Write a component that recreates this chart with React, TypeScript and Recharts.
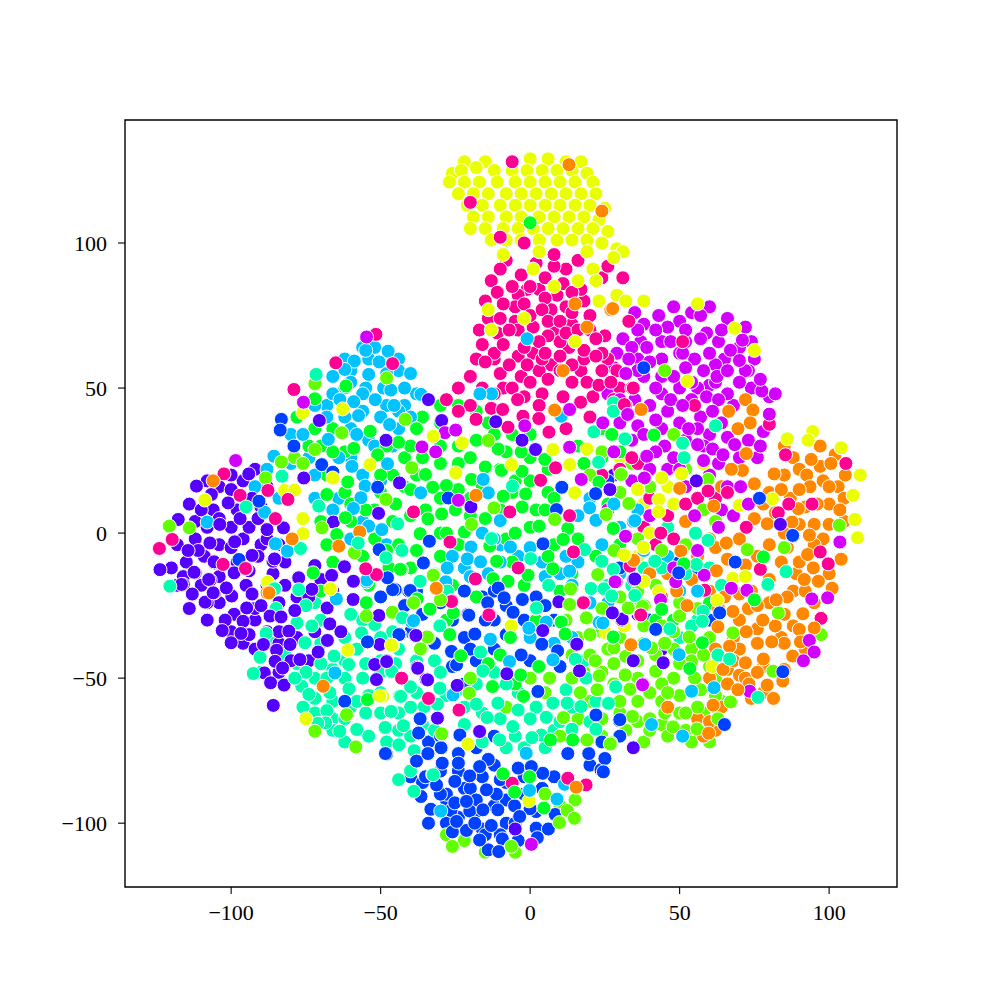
import { ScatterChart, Scatter, XAxis, YAxis, ZAxis, Cell, ReferenceArea } from 'recharts';

type Pt = [number, number];

const xTicks = [-100, -50, 0, 50, 100];
const yTicks = [-100, -50, 0, 50, 100];
const xRange = [-135.5, 122.7];
const yRange = [-122, 142.4];

const orange: Pt[] = [
  [56, -8], [60, -2], [46, -14], [54, -16], [60, -20], [64, 16], [52, 4], [40, -14], [44, -22],
  [85, 30], [97, 30], [102, 27], [88, 26], [97, 23], [103, 16], [85, 20], [98, 18], [80, 14], [87, 12], [92, 9], [100, 10], [105, 4], [75, 17], [82, 7], [90, 3], [98, -2], [104, -9], [75, 5], [80, -4], [86, -5], [95, -4], [101, -19], [70, -2], [76, -8], [89, -14], [95, -24], [72, -11], [62, -5], [66, -9], [74, -20], [70, -21], [80, -24], [85, -28], [73, -26], [65, -22], [88, -32], [63, -26], [68, -36], [76, -33], [84, -36], [92, -40], [62, -40], [70, -40], [60, -50], [66, -47], [78, -55], [85, -47], [56, -64], [62, -68], [70, -49], [58, -70], [64, -60], [74, -57],
  [105, 12], [100, 16], [96, 10], [90, 22], [84, 15], [78, 10], [100, 3], [95, 3], [85, 0], [100, -14], [90, -10], [80, -16], [88, -20], [76, -25], [70, -30], [82, -32], [76, -38], [68, -44], [85, -38], [92, -20], [72, -50], [78, -46], [66, -52], [60, -65],
  [13, 127], [24, 111], [15, 79], [27, 77], [19, 71], [11, 56], [27.6, 77.4], [37, 42.6], [66.4, 42], [72, 46], [74.5, 42.4], [73.6, 38], [69.5, 36], [72.3, 27.4], [71, 21.6], [67.3, 22], [81.6, 20.4], [94, 25.4], [100.6, 24], [105.4, 20], [92.5, 20], [93.6, 16], [90, 15], [61.4, 9.3], [50, 15.4], [103.6, 8], [89.7, 8.4], [87.6, 3.8], [79.3, 3.2], [93.4, -0.7], [65.6, -3.4], [50.4, -6.2],
  [34.7, -9.3], [62.3, -13], [92.8, -7.4], [84, -10], [94.7, -12], [91.7, -16], [96.4, -16.6], [49, -20], [52.5, -25], [86, -22], [67.8, -27], [82.3, -23], [77.8, -30], [91.2, -27.8], [62.8, -32.3], [72.3, -34], [95, -32.7], [90, -33.2], [80.8, -37.5], [90.4, -37.5], [66.7, -39], [33.6, -38.4], [78, -43.4], [87.8, -42.4], [72, -44.7], [64.5, -47], [76, -48], [73.2, -52], [79.3, -52.4], [69.5, -54], [81.4, -57], [46, -60], [61.2, -59.3], [59.7, -69], [84.5, -51],
  [15.4, -87.6], [33.7, -38.5], [34.6, -9.4], [37.1, 42.6], [8.2, 42.4], [-18.1, 13], [-31.2, -19.1], [-106, 18], [-57, 0.4], [-79.6, -2], [-64, -4.5], [-88, -20.6], [-69.2, -52.8], [-87.3, -20.6], [-31.4, -19],
];

const yellow: Pt[] = [
  [38, 10], [46, 16], [48, 10], [40, 0], [36, -8], [58, 24], [30, 26],
  [-22, 128], [-26, 124], [-15, 128],
  [0, 129], [6, 129], [12, 128], [17, 128], [-23, 125], [-18, 126], [-12, 125], [-6, 125], [-1, 125], [4, 125], [9, 125], [14, 125], [19, 124], [-27, 121], [-22, 121], [-17, 121], [-11, 121], [-5, 121], [0, 121], [5, 121], [10, 121], [15, 121], [21, 121],
  [-24, 117], [-19, 117], [-14, 117], [-8, 117], [-3, 117], [2, 117], [7, 117], [12, 117], [17, 117], [22, 117], [-21, 113], [-16, 113], [-10, 113], [-5, 113], [0, 113], [5, 113], [10, 113], [15, 113], [20, 113], [25, 112], [-19, 109], [-14, 109], [-8, 109], [-3, 109], [3, 109], [8, 109], [13, 109], [18, 109], [23, 108],
  [-20, 105], [-15, 105], [-9, 105], [-4, 105], [1, 105], [6, 105], [11, 105], [16, 105], [21, 105], [26, 104], [-13, 101], [-8, 101], [-3, 101], [3, 101], [9, 101], [14, 101], [19, 101], [24, 100], [29, 98], [31, 97], [28, 95], [-9, 96],
  [3, 97], [19, 97], [1, 91], [21, 91], [22, 87], [29, 82], [32, 80], [38, 80], [23, 80], [8, 85], [16, 87], [-14, 77], [-13, 70], [-2, 74], [15, 66],
  [68.4, 70.6], [75, 63], [56, 79], [52.6, 52.4], [86, 32.5], [94.5, 35], [93, 32], [104, 29.4], [110.4, 20], [108, 13], [108.6, 4.7], [109.5, -1.6], [50.6, 20.4], [44, 19], [36, 15], [43, 11.6], [43, 7.3], [38, -5], [70, 9.6], [81, 11.8],
  [38, -16.6], [67.8, -15.6], [72, -15], [62.6, -23.2], [43, -20.2], [61, -46], [-46, -38.7], [-20.8, -72.8], [-6.3, -32], [-0.4, -92.3], [-49.3, -56.3], [25.4, -34.5], [31.5, -32],
  [-61, -40.4], [-46.4, -38.6], [-66.8, -19.2], [-50.3, -56.2], [-75, -64], [-87.8, -16.9], [-62.7, 42.8], [-76, 41.5], [-82.1, 14.7], [-78.8, 14.8], [-108.8, 11.4], [-53.6, 23.6], [-76, 5], [-76, -0.2], [-66.8, -19.2], [-66, 19],
  [-32.4, 33.4], [-22.7, 31.1], [7.6, 28.8], [19, 29], [-6.2, 23.6], [13.2, 23.6], [-24.9, 20.8], [14.9, 13.9], [36, 15], [37.9, -4.9], [31.5, -7.6],
];

const lime: Pt[] = [
  [34, 24], [28, 28], [40, 16], [52, 22], [62, 4], [30, 14], [36, -2], [28, -6], [44, -6], [52, -4], [58, 8], [24, 28], [20, 20],
  [12, -30], [18, -24], [24, -26], [30, -22], [36, -20], [42, -18], [16, -36], [24, -34], [30, -36], [38, -38], [44, -32], [50, -24], [56, -26], [14, -42], [24, -48], [36, -50], [42, -42], [48, -40], [54, -40], [60, -36], [18, -48], [28, -52], [38, -52], [48, -50], [54, -44], [60, -46], [20, -58], [30, -62], [36, -65], [44, -58], [50, -56], [57, -54], [62, -50], [24, -70], [32, -68], [38, -72], [44, -66], [50, -62], [58, -62], [62, -60], [46, -70], [54, -72], [60, -72], [64, -58], [10, -70], [16, -64], [5, -55], [0, -50], [-8, -60], [-20, -50], [10, -94], [15, -92], [5, -90], [-15, -110], [-5, -110], [-22, -106], [-28, -104],
  [20, -35], [26, -40], [36, -44], [45, -38], [50, -45], [55, -50], [44, -52], [36, -58], [28, -45], [20, -42], [45, -62], [52, -68], [40, -68], [30, -58], [24, -64], [58, -42], [62, -56], [56, -60], [14, -50], [38, -32], [48, -34],
  [45, 56], [48, 34], [30.6, 20.4], [59.5, 18.5], [33, 10], [103.4, 2.7], [85, -5], [72.6, -5.7], [83, -27.5], [67.8, -34.4], [97.3, -35], [33.2, -26], [38.2, -25], [50, -28.6], [53.2, -35.8], [40.6, -39.6], [32, -42.4], [28, -39.6], [31.7, -48.8], [42, -47.6], [40, -55], [33.4, -53.6], [46, -55], [34.3, -63], [40, -64], [52, -62], [47.8, -66.8], [55.8, -67.5], [62.8, -64], [67, -58.2], [27, -72.3], [81.2, -47.6],
  [-34, -36], [-36.3, -40], [-20.4, -55.2], [-29.4, -69.3], [11.1, -63.6], [6.5, -50], [19, -71.3], [26.8, -72.7], [12.4, -95.6], [22.4, -54], [23.1, -49.2], [16.8, -55], [21.8, -44], [34.2, -63.2], [33.4, -53.8], [31.8, -48.9], [32, -42.5], [18.5, -29.3], [13.1, -24.7], [32.9, -26], [37.6, -25.3], [-6.3, -108], [-26, -108], [9.8, -99.8], [14.8, -98.3],
  [-32.2, -14.3], [-54.8, -28.6], [-46.1, -27.3], [-34.4, -35.8], [-36.7, -39.9], [-29.6, -69.2], [-58.3, -73.7], [-72, -68.3], [-61.4, -62.6], [-72, 51.5], [-63, 34.6], [-72, 28.8], [-78.8, 26], [-83.2, 24.5], [-76, 24], [-88.5, 19], [-114, 1.8], [-120.7, 2.4], [-58.8, -6.8], [-48.2, 11.6], [-48, 53.5], [-69.6, 1.8],
  [-41.8, 39.2], [-14, 31.9], [-39.6, 22.5], [-12.1, 8.7], [30.4, 20.2], [33, 10.2], [8.2, 4.7], [-32.4, -14.5], [13.5, -19.2], [22.6, -14.3], [-30, -23], [32.8, -25.8], [13.2, -24.6], [18.8, -29.2], [-39, -24], [25.4, 6.4], [-19.6, 3],
];

const green: Pt[] = [
  [24, 26], [18, 24], [26, 10], [30, -4], [36, -24], [42, -30], [48, -30], [60, -24], [16, 30], [24, 36], [30, 28],
  [-30, 44], [-24, 44], [-36, 40], [-30, 38], [-18, 42], [-14, 38], [-24, 30], [-18, 32], [-42, 26], [-36, 26], [-30, 30], [-12, 34], [-6, 34], [0, 34], [-46, 20], [-38, 20], [-24, 24], [-8, 28], [0, 26], [6, 22], [-50, 14], [-42, 16], [-24, 15], [-16, 16], [-6, 14], [0, 18], [6, 14], [-46, 4], [-40, 6], [-30, 0], [-20, 6], [-10, 8], [2, 8], [8, 12], [-52, -2], [-44, -4], [-38, -6], [-30, -8], [-24, -4], [-8, -2], [0, 2], [8, -4], [16, -2], [22, -8], [-40, -12], [-32, -14], [-6, -10], [6, -8], [14, -14], [-26, -18], [-18, -22], [-2, -18], [10, -20], [-28, -30], [2, -30], [-10, -42], [-14, -45], [-5, -52], [-66, 36], [-70, 30], [-62, 28], [-68, 20], [-74, 30], [-72, 36], [-78, 40], [-60, 4], [-70, 4], [-68, -4], [-62, 14], [-56, -8], [-52, 8], [-48, -6], [-70, -20], [-66, -10], [-54, -18],
  [-50, 20], [-40, 30], [-30, 24], [-45, 10], [-35, 8], [-25, 8], [-15, 5], [-5, 18], [-20, 26], [-40, 15], [-55, 8], [-28, 0], [-5, 0], [5, 8], [-38, 36], [-48, 30], [-30, 12], [-10, 22], [-20, 12], [-3, 28], [-66, 28], [-60, 10],
  [-44, 31.3], [-35, 20.2], [-32.6, 15.8], [-28, 16.4], [-19.6, 18.5], [-15, 22.8], [-10.7, 29], [-9.6, 21.6], [-2.7, 21.3], [-9, 12.7], [-1.5, 13.5], [-2.7, 9], [-29.6, 6.6], [-34.2, 4.9], [-36.8, -0.2], [-22, 0.4], [3, 2.4], [12.6, 1.6], [11, -2.2], [27.6, 1.6], [-43, -12.6], [-12.4, -15.7], [7.6, -12.3], [-0.7, -14.5], [-33.5, -26.4], [10.4, -30.4], [4.9, 25.4], [23, 17.5], [27.3, 34], [-13.5, -4.5], [-11.2, -9.7], [-7.4, -16.6], [-25.7, -27.5],
  [-61.6, 50.7], [-72, 46.3], [-53.5, 35.1], [-59, 29.2], [-51, 27], [-61, 17.6], [-68, 13.3], [-61.8, 5.3], [-64.7, -0.5], [-47.5, -12], [-47.2, -12], [-43.4, -12.5], [-33.7, -26.3], [-54.8, -24], [-54.4, -57.4], [-37.8, -22.7], [-72.6, -13.7],
  [-33.5, -26.2], [-26.9, -35], [-23.2, -42.3], [-6.6, -36], [10.4, -30.7], [11.7, -34.8], [2.9, -46], [-3.2, -48.9], [-12.6, -52.9], [-2.2, -56.3], [6.8, -71.3], [14.2, -71.3], [-9.1, -83], [-5.2, -89.3], [4.6, -94.8], [27.6, -35.9], [-0.2, -84],
  [27.8, 1.5], [51.4, -10.6], [78, -8.2], [75, -23], [44, -26.3], [27.8, -35.8], [57.6, -37.8], [53.4, -46.7], [27.3, 34], [41.4, 33.8], [27.8, 1.6], [0, 107],
];

const teal: Pt[] = [
  [46, 2], [30, -12], [38, -12], [26, -18], [44, -12], [52, -14], [34, -18], [60, -12], [64, -18], [56, -30], [50, -36], [54, -32],
  [-86, -38], [-82, -42], [-78, -45], [-72, -50], [-66, -47], [-58, -40], [-84, -50], [-72, -62], [-66, -64], [-60, -60], [-54, -56], [-50, -62], [-44, -68], [-62, -72], [-54, -70], [-48, -72], [-40, -70], [-70, -38], [-62, -44], [-56, -50], [-50, -44], [-44, -40], [-38, -44], [-32, -44], [-28, -56], [-24, -54], [-18, -52], [-12, -48], [-16, -62], [-10, -64], [-4, -55], [2, -60], [8, -68], [12, -54], [-36, -66], [-32, -68], [-56, -30], [-46, -34], [-72, -24], [-66, -68], [-62, -64], [-68, -50], [-58, -58], [-50, -48], [-76, -60], [-40, -60], [-8, -74], [-16, -72], [-22, -66], [-2, -74], [5, -74], [-40, -82], [-44, -85], [18, -44], [22, -58], [14, -60], [20, -65], [-75, -25], [-85, -26], [-90, -48],
  [-70, -45], [-62, -50], [-55, -45], [-50, -55], [-44, -62], [-55, -62], [-66, -58], [-75, -48], [-70, -30], [-60, -28], [-45, -45], [-38, -55], [-30, -48], [-22, -60], [-8, -52], [0, -64], [-5, -70], [10, -65], [-62, -36], [-50, -36], [-72, -57],
  [-85.3, -19.2], [-77.6, -19.4], [-88.3, -34.6], [-90.3, -42.8], [-78, -31], [-73, -32], [-75.3, -37.8], [-76.4, -52.8], [-67, -55], [-68, -61.2], [-68.4, -65.4], [-71, -65.6], [-63.7, -68.3], [-58, -67.7], [-48.7, -67.1], [-43.9, -73.1], [-46.4, -61.4], [-43.7, -56.2], [-40, -53.1], [-35.3, -59.7], [-31, -59], [-30.3, -53.4], [-56.4, -34.4], [-65.6, -42.4], [-60.7, -45.3], [-46.4, -47.8], [-60.6, -53.7], [-42.8, -29.6], [-30.1, -31.8], [-37, -16.8], [-52, -31.5], [-92.6, -48.4], [-78.7, -50], [-74, -55.6], [-38.7, -75.2], [-32.6, -83.2],
  [-42.6, -29.3], [-30.2, -32], [-16.6, -41], [-46.3, -47.7], [-40, -53], [-43.3, -56.3], [-46.5, -61.5], [-48.5, -67], [-42.4, -66.4], [-35.4, -59.8], [-31, -59], [-30.2, -53.5], [-15.8, -47.5], [-10.8, -58.6], [-14.4, -63.6], [-4, -61], [-5.8, -66.7], [-10.2, -71.3], [5.4, -63.5], [3.7, -69.6], [7.6, -58.6], [12.4, -58.6], [17, -59.8], [15.1, -43.5], [18.7, -50], [28.5, -53], [25.9, -58.6], [1.9, -26], [-43.9, -73], [-38.8, -75], [-32.4, -83.3], [-38.9, -89], [22, -67.6], [14, -67.6], [0.6, -70.5], [-18, -59],
  [-44.3, 3.2], [-42.9, -6], [-12.9, -1.9], [0.2, -8.8], [18.2, -5.7], [21.3, 34.9], [31.9, 32.5], [22.9, 24.4], [-36.8, -16.6], [6.2, -18], [24.3, -19.1], [20.4, -19.1], [2.1, -25.8], [-42.7, -29.2], [-27.7, -20], [27.9, 44.9], [-5.9, 16.2],
  [27.8, 42], [62, 37], [31.7, 32.5], [51, 31], [51.5, 26], [55.3, 0], [59.5, -2.5], [41.7, -9.7], [27.8, -12.5], [24, -9.7], [24.7, -19.2], [27.3, -21.7], [35, -21.5], [55.6, -10.8], [79.5, -17.7], [85.6, -13.3], [57.8, -27], [57.6, -30.4], [46.7, -33], [62.8, -42], [66.7, -43.4], [76.2, -56.6], [28.6, -53], [26.2, -58.7],
  [-83, 19.6], [-95, 9], [-76.8, -5.3], [-57.5, -3.4], [-77.4, -19.5], [-85.5, -19.2], [-70.7, 9.3], [-120.5, -18.3], [-48.2, -8.5], [-71.6, 54.7],
];

const cyan: Pt[] = [
  [46, -8], [50, -20], [26, -24], [30, -14], [38, -6],
  [-56, 64], [-52, 64], [-44, 60], [-62, 60], [-66, 54], [-60, 56], [-44, 56], [-38, 48], [-42, 44], [-55, 50], [-49, 50], [-68, 44], [-62, 50], [-56, 42], [-48, 44], [-44, 36], [-40, 40], [-66, 36], [-60, 36], [-54, 32], [-46, 30], [-72, 44], [-80, 34], [-74, 26], [-60, 26], [-50, 18], [-64, 12], [-56, 4], [-48, -4], [-72, 12], [-80, 24], [-88, 22], [-92, 16], [-84, 12], [-16, 0], [-10, -4], [-4, -8], [4, -10], [10, -14], [16, -10], [24, -4], [30, 2], [-22, -12], [-14, -14], [-26, -8], [16, 6], [20, 12], [28, 10], [36, 8], [14, -18], [20, -24], [0, -36], [8, -38], [14, -36],
  [-60, 52], [-54, 60], [-48, 55], [-42, 50], [-56, 48], [-50, 40], [-44, 42], [-40, 55], [-62, 40], [-66, 48], [-52, 30], [-58, 34], [-68, 40], [-72, 20], [-64, 26], [-56, 20], [-66, 8], [-60, -2], [-10, -10], [0, -5], [5, -15], [-20, -15], [-12, -2], [12, -8],
  [-55, 63], [-47.5, 62.7], [-58.8, 59.3], [-50.5, 59], [-62, 56.4], [-54, 54.7], [-46.6, 49.3], [-51.8, 46], [-63.6, 46], [-59, 45.3], [-57.4, 40.5], [-47, 37.4], [-76, 34], [-67.5, 32.3], [-85.7, 26.5], [-59.6, 23], [-47.7, 23.9], [-55.2, 16.2], [-56.6, 12.2], [-59.1, 8.5], [-54, 2.4], [-49.6, 1.2], [-108, 3.8], [-88.8, 7.2], [-81.2, -6.2], [-85.2, -3.7], [-54.7, -16.8],
  [-64.8, -22.7], [-54.6, -16.2], [-65.3, -48.2], [-39.8, -30.4], [-36.5, 47.8], [-45.5, 44], [-36.6, 13.9], [-15.7, 18.5], [-14, 13.9], [-10, 4.3], [10.4, 40.3], [19.9, 8.7], [22, 4.4], [34.6, 4.3], [-19.8, -4.8], [-6.6, -4.8], [-21, -8.9], [-16.6, -9.9], [-27.7, -12], [-28.2, -16.8], [13.2, -13.1], [5.4, -30.6], [23.2, -30.6], [-12.9, 48], [-16.8, 48],
  [-6.9, -44.3], [-0.4, -32.8], [5.4, -30.7], [-13.3, -36.6], [-25.8, -55.8], [-1.3, -75.9], [11.5, -86.6], [-0.2, -88.7], [9, -91.7], [-29.9, -95.8], [23.1, -30.8], [-39, -30.2], [7.6, -43.7],
  [49.8, -41.9], [61.5, -53.3], [54, -54.5], [34.5, 4], [24.3, -31], [51, -70], [40.6, -66], [38.4, -38.4], [56, -20], [35, 4.3], [-1, 67],
];

const blue: Pt[] = [
  [40, -30], [50, -10], [56, -14], [60, -30], [30, -12], [26, 18],
  [-40, -84], [-36, -86], [-30, -82], [-28, -92], [-34, -100], [-30, -96], [-22, -88], [-16, -84], [-12, -80], [-8, -86], [-2, -84], [4, -88], [8, -84], [-24, -98], [-18, -96], [-12, -94], [-8, -100], [-2, -90], [2, -96], [-22, -106], [-16, -102], [-10, -104], [-4, -106], [-28, -90], [-24, -76], [-18, -74], [-34, -72], [-12, -70], [-42, -25], [-36, -28], [-30, -24], [-26, -30], [-22, -36], [-16, -22], [-12, -30], [-8, -25], [-2, -30], [2, -22], [8, -30], [-12, -40], [-18, -44], [-26, -46], [-32, -38], [-22, -52], [0, -44], [10, -46], [30, -70], [24, -72], [20, -80], [-40, -34], [-50, -22],
  [-30, -90], [-20, -88], [-10, -85], [-35, -84], [-28, -100], [-15, -104], [-5, -100], [0, -95], [-18, -92], [-8, -92], [-24, -82], [-14, -78], [-30, -70], [-15, -30], [-8, -35], [-20, -40], [-3, -42], [5, -25], [-22, -20], [-12, -20], [-38, -20],
  [-43.5, -35], [-20.8, -28], [-5.8, -27.4], [-18.5, -34.8], [3.9, -38.3], [9.2, -40.6], [-26.3, -40.8], [-24.6, -45.4], [2.6, -54.6], [22, -62.7], [29.8, -64.6], [-36.6, -64], [-37.2, -69], [-23.5, -69.6], [-29.6, -74], [-48, -76.2], [-34, -76.2], [-38, -78.5], [-29.4, -79.3], [-24, -79.3], [-16.9, -80.5], [12.6, -76], [19.6, -76], [25, -77.8], [23.7, -81.6], [-4, -81], [4.2, -82.8], [0.4, -80.5], [-20.2, -83.7], [-25.2, -85.6], [-31.3, -86.8], [-11.3, -90], [-36.5, -90.8], [-33.2, -95.2], [-26.5, -95.6], [-20.2, -95.8], [-15.8, -95.4], [-10.8, -95.4], [-5.2, -94], [-3.5, -97.7], [8.4, -97], [-13, -100.8], [-21.3, -102.5], [-26, -103], [-24.6, -99.4], [-18.5, -100], [2, -101.7], [6.1, -102], [-9.3, -105.4], [-14, -109.2], [-10.5, -109.8], [2.4, -105], [-25.2, -93], [-21.3, -92.5], [-14.6, -88.5], [-16.9, -105.8],
  [-45.6, -19.2], [-40.6, -20], [-35.9, -10.2], [-43.9, -35], [-54.4, -37.5], [-62, -58], [-48.4, -76], [-36.8, -64], [-37.3, -68.9], [-38, -78.6], [-34.2, -76], [-29.8, -74],
  [10.6, 15.8], [21.9, 13.6], [8.8, 8.1], [4.3, -3.7], [-33.7, -2.8], [-35.7, -10.3], [-40.1, -19.8], [-45.1, -19.5], [-10.7, -18.9], [-8.7, -22.3], [-2.6, -22.9], [-14.2, -24], [-20.5, -28.3], [-5.7, -27.3], [-27.4, 12.1],
  [-83.2, 39.2], [-83.6, 35.5], [-79, 30], [-69.7, 23.6], [-66, 21], [-51, 15.8], [-90.7, 11], [-46, -19.5], [-97.4, -9.1], [-50.5, -5.7], [-47.7, -15.4],
  [38, 57], [76.7, 12], [88, -1], [68.6, -10], [49.7, -13.7], [63.4, -27.5], [42, -33.2], [84.5, -47.8], [87.8, -0.8], [30, -64.3], [25, -77.7], [24.5, -82.3], [65, -66],
];

const violet: Pt[] = [
  [28, 20], [36, -28], [44, -40],
  [-120, -12], [-118, -4], [-115, -10], [-112, -2], [-109, -8], [-104, -4], [-110, -18], [-118, -18], [-114, -26], [-108, -30], [-104, -24], [-100, -34], [-96, -38], [-92, -40], [-88, -34], [-92, -30], [-98, -10], [-94, -13], [-92, -26], [-88, -18], [-84, -24], [-78, -36], [-82, -10], [-78, -22], [-96, -2], [-90, -4], [-108, 2], [-100, 2], [-94, 2], [-112, 4], [-84, -4], [-106, 8], [-98, 8], [-90, 9], [-104, 16], [-96, 18], [-92, 22], [-88, 16], [-100, 20], [-84, -38], [-74, -44], [-72, -34], [-74, -22], [-80, -44], [-70, -16], [-84, -48], [-108, 18], [-114, 10], [-66, -20],
  [-116, -15], [-111, -6], [-108, -24], [-104, -15], [-100, -5], [-99, -28], [-95, -18], [-94, -35], [-91, -8], [-90, -25], [-86, -14], [-84, -34], [-104, 5], [-97, 5], [-91, 5], [-100, 15], [-93, 12], [-88, -2], [-110, 8], [-82, -18],
  [-112, -13.7], [-107, -16.2], [-113, -21.2], [-105.6, -20.6], [-108.7, -23.8], [-99.8, -21.7], [-102, -30], [-94.8, -25.8], [-96, -30.4], [-103, -33.6], [-96.7, -34.6], [-100, -37.8], [-87, -28.6], [-83.3, -28.9], [-78.7, -26.7], [-80.7, -33.8], [-89.2, -38.4], [-80.3, -38.4], [-84.8, -40.4], [-85.3, -44.2], [-77, -43.6], [-82.8, -46.5], [-88.9, -48.2], [-86.8, -51.6], [-82.3, -52.4], [-85.9, -59.4], [-70.9, -41], [-67.8, -37], [-63.3, -34], [-67, -31.3], [-67.9, -25.8], [-72, -11.2], [-66.2, -14.5], [-62, -11.4], [-59.2, -16.6], [-59.2, -22.9], [-50.6, -28.4], [-50.3, -38.4], [-52, -45.3], [-48, -44], [-51.4, -50.5], [-34.8, -50.5], [-31, -63.7], [-37.8, -46.2], [-38.3, -35.5], [-116, -17.7], [-86, -9.7], [-93, -21], [-105.6, -10.3], [-99, -13.7], [-77.6, -15.4], [-73, -19.4],
  [-70.5, 38.8], [-48.2, 32], [-94.1, 20.4], [-111.6, 16.2], [-75.7, 19], [-106.6, 13.3], [-101, 10.4], [-117.7, 4.7], [-65.8, 3.8], [-82.5, 1.8], [-88, 1.2], [-103.8, 3], [-50.7, 6.8], [-98.8, -3], [-107.1, -3.4], [-114.4, -6], [-93, -7.7], [-85.5, -8.9], [-105.7, -9.9], [-123.8, -12.6], [-112.4, -13.5], [-107.5, -16], [-116.6, -17.7], [-72, -11.2], [-62.1, -11.6], [-77.4, -15.4], [-66.4, -14.6], [-59.1, -16.6], [-113, -21], [-106, -20.6], [-101.6, -18.9],
  [-29.6, 38.8], [-11.5, 38.4], [-2.7, 32], [1.8, 28.8], [-43.7, 17.3], [-19.8, 9], [26.5, 15.2], [30.6, -29.8], [34.6, -16], [-34, 46], [9.6, -23.7],
  [-16.9, -68.4], [-31, -63.8], [-34.3, -50.6], [-24.4, -52.5], [-7.8, -48.5], [15.6, -38.3], [30.7, -30], [34.5, -74], [-48, -44.3], [-37.6, -46.6], [-38.2, -35.3], [4.2, -33.6], [16.5, -47.5], [-5, -102],
  [83.7, 3], [35, -15.8], [30.8, -29.6], [27.5, -27.5], [44.5, -44.7], [37.6, -52], [34.5, -44], [26.7, 15], [55.6, 18],
];

const magenta: Pt[] = [
  [46, 22], [52, 16], [60, 20], [64, 8], [68, 6], [66, 16], [34, 18], [40, 6], [56, -6], [48, -12], [26, 8],
  [35, 76], [48, 78], [54, 76], [66, 74], [72, 71], [38, 72], [50, 73], [63, 66], [74, 66], [31, 67], [37, 66], [52, 66], [65, 60], [75, 60], [29, 62], [36, 60], [44, 60], [55, 60], [62, 58], [73, 56], [28, 57], [38, 54], [44, 54], [52, 57], [60, 51], [74, 50], [26, 48], [35, 46], [44, 48], [50, 50], [56, 50], [68, 44], [80, 47], [36, 37], [44, 36], [50, 38], [57, 40], [64, 38], [73, 32], [45, 30], [52, 32], [60, 34], [66, 33], [42, 28], [48, 26], [58, 25], [63, 24], [70, 26], [30, 38], [34, 32], [40, 22], [28, 28], [50, 22], [76, 26], [78, 35], [82, 48],
  [36, 70], [44, 66], [52, 70], [60, 62], [64, 70], [36, 56], [42, 50], [48, 54], [54, 52], [66, 48], [30, 46], [38, 34], [46, 42], [56, 36], [62, 52], [72, 56], [40, 44], [50, 62], [70, 64], [54, 46], [34, 64], [58, 30],
  [60, 78], [57, 75], [43, 75], [46, 71], [59, 69], [42, 70], [71, 66.5], [47, 66], [39, 64], [51, 62], [57, 67], [67, 63], [33, 60], [40, 59], [70, 59.5], [32, 55], [58, 56], [62.5, 54], [66, 56], [70, 52], [77.5, 49], [77, 53], [47, 46], [59, 47], [63, 46], [51, 44], [33, 41], [42, 39], [61, 42], [53, 36], [80, 41], [56, 30.5], [39, 26.5], [61, 29], [64.5, 27], [77, 30], [68.4, 30.5], [70.4, 16], [73, 10], [38.4, 19], [55, 6], [63, 2],
  [103.6, -3.1], [58.2, -14.5], [28.8, -16.8], [48.7, -16.8], [67.3, -19], [72.5, -19.7], [94.2, -22.7], [99.5, -22.3], [43.6, -23], [91.4, -44], [93.4, -37], [95, -41], [73.4, -54.5], [32, -1],
  [-31.6, 28], [-36.2, 29.7], [-28.5, 34.6], [-24.9, 35.5], [-24, 11.3], [-1.8, 37], [13.2, 42.6], [13.2, 29.6], [17.1, 18.5], [31.9, -1.1], [28.4, -16.8], [24.3, 38], [32.6, 40.9], [38.2, 19],
  [-54.7, 67.6], [-75.8, 45.1], [-98.5, 25], [0.4, -107.3], [37.6, -52.3],
];

const pink: Pt[] = [
  [38, 2], [46, 6], [40, 12], [52, 10], [56, 12], [62, 12], [66, 14], [48, -2], [42, -4], [30, 22], [36, 24], [24, 20], [34, 26],
  [-8, 94], [2, 93], [12, 91], [24, 88], [-13, 87], [-1, 84], [9, 82], [18, 80], [-11, 83], [3, 84], [-15, 80], [-4, 82], [7, 77], [17, 84], [-17, 70], [-11, 69], [-5, 73], [1, 71], [8, 69], [14, 72], [20, 70], [25, 68], [-16, 65], [-12, 60], [-4, 61], [1, 62], [7, 58], [13, 64], [26, 60], [29, 56], [-18, 60], [-10, 55], [-3, 54], [3, 56], [10, 56], [17, 56], [24, 56], [30, 50], [-24, 50], [-16, 50], [-9, 50], [-2, 47], [4, 48], [11, 47], [21, 47], [-20, 44], [-13, 43], [3, 44], [12, 36], [20, 40], [-28, 46], [-24, 42],
  [0, 85], [-4, 70], [4, 60], [12, 78], [-12, 62], [18, 60], [10, 66], [-2, 64], [14, 58], [24, 62], [-6, 50], [-12, 48], [6, 68], [-5, 78], [8, 92], [28, 46],
  [8, 96], [16, 94], [26, 92], [31, 88], [-10, 91], [-3, 89], [5, 88], [11, 86], [-6, 85], [14, 83], [-9, 79], [-2, 79], [5, 81], [-14, 74], [-10, 74], [0, 75], [4, 77], [14, 76], [20, 75], [6, 73], [10, 73], [-7, 70], [12, 69], [16, 70], [-9, 65], [3, 66], [22, 67], [18, 63], [22, 61], [10, 61], [5, 62], [-15, 59], [-7, 58], [-1, 58], [-20, 54], [6, 53], [0, 52], [14, 52], [19, 52], [23, 51], [27, 52], [34, 50],
  [-6, 128], [-20, 114], [-10, 102], [-2, 100], [33, 73], [51, 66], [34.5, 50], [55, 44], [32, 44], [80, 37.5], [85.4, 27], [105.6, 24], [59.5, 14.5], [83, 7], [86.5, 10], [94.3, 10], [72.3, 2], [43.7, 0],
  [97, -6.5], [99.7, -10.6], [77, -12.5], [58.4, -19.7], [97.3, -29.4], [37, -28.3], [33.4, -11.4],
  [-18.1, 39.2], [-9.2, 42.6], [-7.4, 36.5], [-4.2, 46], [-2.4, 40.3], [2.9, 39.5], [6.3, 34.8], [16.9, 45.1], [3.5, 18.2], [8.5, 22.5], [-39, 7.3], [-6.8, 7.3], [13.2, 6], [-26.8, -3.1], [-18.3, -15.8], [-4, -12], [-26.2, -23.3], [-13.5, -28.1], [18, -23.8], [14.5, -6.5], [31.5, 44.3],
  [-23.8, -61], [-13.8, -28.2], [-26.3, -23.6], [17.8, -24], [37, -28.2], [-6, -86.2], [12.6, -84.5], [-34, -57], [-43, -50], [18.7, -86.8], [-95, -12.3], [-51.2, -14.3],
  [-79, 49.5], [-65, 58.7], [-46, 58.4], [-51.6, 68.5], [-102.4, 20.4], [-97, 13], [-87.7, 14.7], [-85.2, 5], [-119.7, -2.2], [-124, -5.3], [-102.7, -10.8], [-95.2, -12.2], [-51.4, -14.3], [-81, 11.6], [-55, -12.3],
];

const classes: { color: string; points: Pt[] }[] = [
  { color: '#ff8800', points: orange },
  { color: '#eaff00', points: yellow },
  { color: '#62ff00', points: lime },
  { color: '#00ff26', points: green },
  { color: '#00ffae', points: teal },
  { color: '#00c3ff', points: cyan },
  { color: '#0040ff', points: blue },
  { color: '#5500ff', points: violet },
  { color: '#d400ff', points: magenta },
  { color: '#ff0094', points: pink },
];

// classes are mixed so no colour always ends up on top, like the shuffled original
const rows = classes
  .flatMap((c) =>
    c.points.map((p, i) => ({ x: p[0], y: p[1], z: 1, color: c.color, order: i / c.points.length })),
  )
  .sort((a, b) => a.order - b.order);

const minusTick = (v: number) => (v < 0 ? `\u2212${-v}` : `${v}`);
const tickStyle = { fontFamily: '"Liberation Serif", serif', fontSize: 22, fill: '#000' };

const App = () => {
  return (
    <div style={{ position: 'absolute', left: 0, top: 0 }}>
      <ScatterChart
        width={997}
        height={997}
        margin={{ top: 120, right: 100, bottom: 70, left: 65 }}
      >
        <XAxis
          type="number"
          dataKey="x"
          domain={xRange}
          ticks={xTicks}
          height={40}
          axisLine={false}
          tick={tickStyle}
          tickLine={{ stroke: '#000', strokeWidth: 1.1 }}
          tickSize={7}
          tickMargin={10}
          tickFormatter={minusTick}
          allowDataOverflow
        />
        <YAxis
          type="number"
          dataKey="y"
          domain={yRange}
          ticks={yTicks}
          width={60}
          axisLine={false}
          tick={tickStyle}
          tickLine={{ stroke: '#000', strokeWidth: 1.1 }}
          tickSize={7}
          tickMargin={11}
          tickFormatter={minusTick}
          allowDataOverflow
        />
        <ZAxis type="number" dataKey="z" range={[154, 154]} />
        <ReferenceArea
          x1={xRange[0]}
          x2={xRange[1]}
          y1={yRange[0]}
          y2={yRange[1]}
          fill="none"
          stroke="#000"
          strokeWidth={1.4}
        />
        <Scatter data={rows} stroke="#fff" strokeWidth={1} isAnimationActive={false}>
          {rows.map((r, index) => (
            <Cell key={`cell-${index}`} fill={r.color} />
          ))}
        </Scatter>
      </ScatterChart>
    </div>
  );
};

export default App;
